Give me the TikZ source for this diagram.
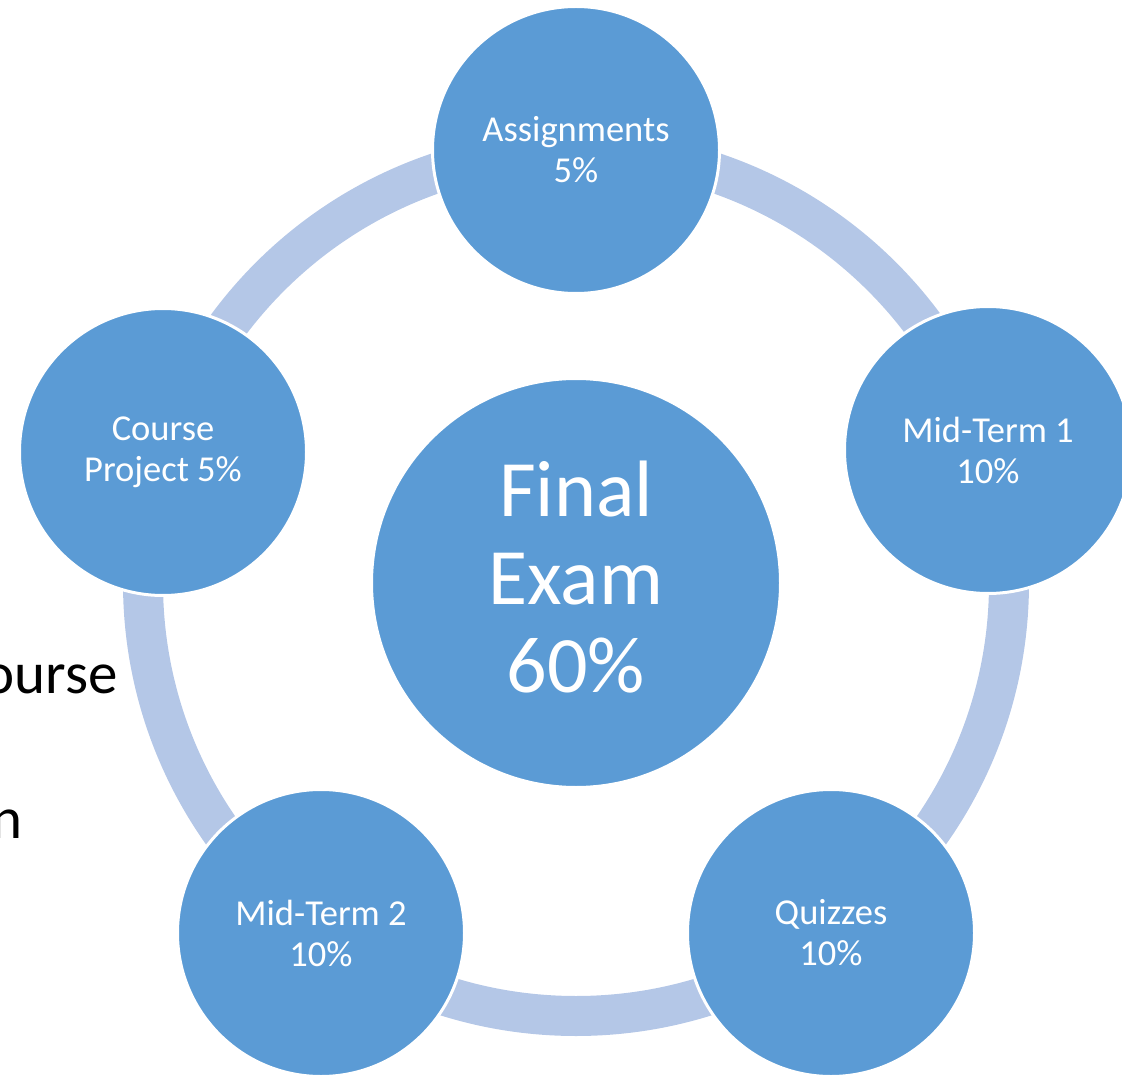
\documentclass[tikz,border=0pt]{standalone}
\usepackage{fontspec}
\setmainfont{Carlito}
\definecolor{bubblefill}{HTML}{5B9BD5}
\definecolor{ringfill}{HTML}{B4C7E7}
\begin{document}
\begin{tikzpicture}[x=1pt,y=-1pt,
  bubble/.style={circle, fill=bubblefill, draw=white, line width=3pt,
    minimum size=287pt, inner sep=0pt, align=center, text=white,
    font=\fontsize{36.5}{41}\selectfont},
  hub/.style={bubble, minimum size=409pt},
  hubtext/.style={inner sep=0pt, align=center, text=white,
    font=\fontsize{80}{88}\selectfont},
  backtext/.style={text=black, inner sep=0pt, anchor=base east,
    font=\fontsize{59}{70}\selectfont}]
\useasboundingbox (0,0) rectangle (1122,1075);
\clip (0,0) rectangle (1122,1075);
% slide text lying behind the cycle
\node[backtext] (bt1) at (118,693) {ourse};
\node[backtext] (bt2) at (23,838) {n};
% ring joining the five outer bubbles
\coordinate (hubc) at (576,583);
\draw[ringfill, line width=40pt] (hubc) circle (433pt);
% centre bubble and its label
\node[hub] (final) at (hubc) {};
\node[hubtext] (finaltxt) at (576,577) {Final\\Exam\\60\%};
% outer bubbles
\node[bubble] (asg) at (576,150) {Assignments\\5\%};
\node[bubble] (mt1) at (988,450) {Mid-Term 1\\10\%};
\node[bubble] (quiz) at (831,933) {Quizzes\\10\%};
\node[bubble] (mt2) at (321,933) {Mid-Term 2\\10\%};
\node[bubble] (proj) at (163,452) {Course\\Project 5\%};
\end{tikzpicture}
\end{document}
